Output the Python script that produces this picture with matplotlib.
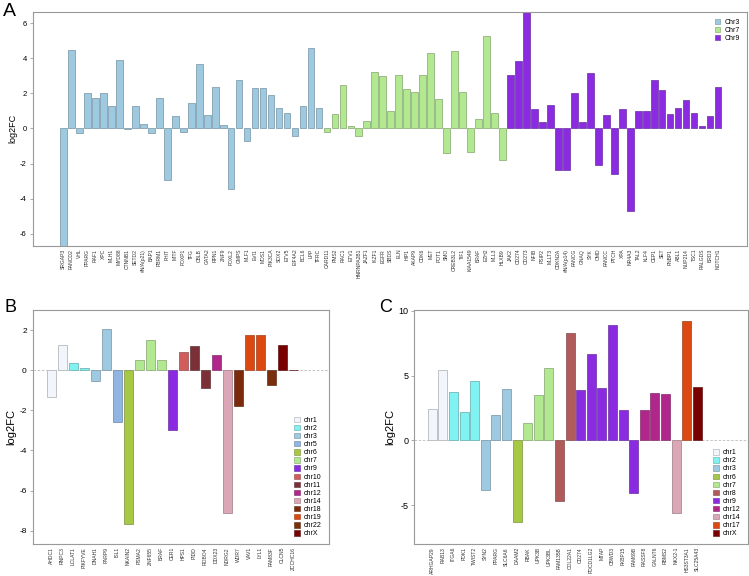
import numpy as np
import matplotlib
matplotlib.use('Agg')
import matplotlib.pyplot as plt
from matplotlib.patches import Patch
from matplotlib.colors import to_rgb

plt.rcParams['font.family'] = ['Liberation Sans', 'DejaVu Sans']

# ---- panel A data ----
genesA = ['SRGAP3', 'FANCD2', 'VHL', 'PPARG', 'RAF1', 'XPC', 'MLH1', 'MYD88', 'CTNNB1', 'SETD2',
          '#N/A(p21)', 'BAP1', 'PBRM1', 'FHIT', 'MITF', 'FOXP1', 'TFG', 'CBLB', 'GATA2', 'RPN1',
          'ZNF9', 'FOXL2', 'GMPS', 'MLF1', 'EVI1', 'MDS1', 'PIK3CA', 'SOX2', 'ETV5', 'EIF4A2',
          'BCL6', 'LPP', 'TFRC',
          'CARD11', 'PMS2', 'RAC1', 'ETV1', 'HNRNPA2B1', 'JAZF1', 'IKZF1', 'EGFR', 'SBDS', 'ELN',
          'HIP1', 'AKAP9', 'CDK6', 'MET', 'POT1', 'SMO', 'CREB3L2', 'TIF1', 'KIAA1549', 'BRAF',
          'EZH2', 'MLL3', 'HLXB9',
          'JAK2', 'CD274', 'CD273', 'NFIB', 'PSIP2', 'MLLT3', 'CDKN2A', '#N/A(p14)', 'FANCG',
          'GNAQ', 'SYK', 'OMD', 'FANCC', 'PTCH', 'XPA', 'NR4A3', 'TAL2', 'KLF4', 'CEP1', 'SET',
          'FNBP1', 'ABL1', 'NUP214', 'TSC1', 'RALGDS', 'BRD3', 'NOTCH1']
valsA = [-6.9, 4.49, -0.28, 1.99, 1.76, 1.99, 1.25, 3.92, -0.06, 1.25,
         0.23, -0.28, 1.76, -2.95, 0.68, -0.23, 1.42, 3.69, 0.74, 2.37,
         0.19, -3.47, 2.75, -0.74, 2.33, 2.33, 1.93, 1.19, 0.89, -0.45,
         1.25, 4.56, 1.14,
         -0.23, 0.80, 2.50, 0.15, -0.45, 0.44, 3.24, 3.01, 0.97, 3.07,
         2.22, 2.05, 3.07, 4.32, 1.70, -1.38, 4.43, 2.10, -1.33, 0.51,
         5.28, 0.85, -1.82,
         3.03, 3.86, 6.9, 1.08, 0.38, 1.34, -2.39, -2.39, 1.99,
         0.34, 3.13, -2.06, 0.78, -2.58, 1.08, -4.70, 1.00, 0.98, 2.78, 2.18,
         0.81, 1.19, 1.63, 0.87, 0.13, 0.68, 2.37]
chromA = ['Chr3'] * 33 + ['Chr7'] * 23 + ['Chr9'] * 27
colorsA = {'Chr3': '#9ecae1', 'Chr7': '#b2e890', 'Chr9': '#8a2be2'}

# ---- panel B data ----
genesB = ['AHDC1', 'RNPC3', 'LCLAT1', 'PIKFYVE', 'DNAH1', 'PARP9', 'ISL1', 'NKAIN2', 'PSMA2',
          'ZNF655', 'BRAF', 'CER1', 'HPS1', 'PIDD', 'ROBO4', 'DDX23', 'NDRG2', 'WDR7', 'VAV1',
          'LYL1', 'FAM83F', 'CLCN5', 'ZCCHC16']
valsB = [-1.35, 1.28, 0.37, 0.12, -0.53, 2.03, -2.6, -7.68, 0.52,
         1.48, 0.52, -3.0, 0.93, 1.23, -0.88, 0.78, -7.13, -1.78, 1.77,
         1.75, -0.73, 1.28, 0.02]
chromB = ['chr1', 'chr1', 'chr2', 'chr2', 'chr3', 'chr3', 'chr5', 'chr6', 'chr7',
          'chr7', 'chr7', 'chr9', 'chr10', 'chr11', 'chr11', 'chr12', 'chr14', 'chr18', 'chr19',
          'chr19', 'chr22', 'chrX', 'chrX']

# ---- panel C data ----
genesC = ['ARHGAP29', 'RAB13', 'ITGA6', 'PDK1', 'TWIST2', 'SYN2', 'PPARG', 'SLC6A6', 'DAAM2',
          'RBAK', 'UPK3B', 'UPK3BL', 'FAM135B', 'COL22A1', 'CD274', 'PDCD1LG2', 'MTAP', 'CBWD3',
          'FKBP15', 'FAM69B', 'RASSF8', 'GALNT6', 'RBMS2', 'NKX2-1', 'HS3ST3A1', 'SLC25A43']
valsC = [2.41, 5.44, 3.77, 2.21, 4.56, -3.79, 1.97, 3.97, -6.31,
         1.36, 3.51, 5.59, -4.69, 8.28, 3.87, 6.67, 4.08, 8.9,
         2.36, -4.03, 2.31, 3.64, 3.59, -5.56, 9.18, 4.13]
chromC = ['chr1', 'chr1', 'chr2', 'chr2', 'chr2', 'chr3', 'chr3', 'chr3', 'chr6',
          'chr7', 'chr7', 'chr7', 'chr8', 'chr8', 'chr9', 'chr9', 'chr9', 'chr9',
          'chr9', 'chr9', 'chr12', 'chr12', 'chr12', 'chr14', 'chr17', 'chrX']

chrColors = {'chr1': '#f2f6fc', 'chr2': '#80f2f2', 'chr3': '#9ecae1', 'chr5': '#8fb5e3',
             'chr6': '#a6c844', 'chr7': '#b2e890', 'chr8': '#b05a5a', 'chr9': '#8a2be2',
             'chr10': '#d05c5c', 'chr11': '#7b3037', 'chr12': '#b0268a', 'chr14': '#dba6b6',
             'chr17': '#dd4812', 'chr18': '#7b2a0c', 'chr19': '#dd4812', 'chr22': '#7a2e0a',
             'chrX': '#780000'}


def edge(c):
    r, g, b = to_rgb(c)
    return (r * 0.6 + 0.15, g * 0.6 + 0.15, b * 0.6 + 0.15)


def drawPanel(ax, genes, vals, chroms, cmap, xlim, ylim, yticks, tickfs, labfs, legloc,
              zeroline=True):
    x = np.arange(len(genes))
    cols = [cmap[c] for c in chroms]
    if zeroline:
        ax.axhline(0, color='#bbbbbb', lw=0.6, ls=(0, (3, 2)), zorder=0)
    ax.bar(x, vals, width=0.84, color=cols, edgecolor=[edge(c) for c in cols],
           linewidth=0.6, zorder=2)
    ax.set_xlim(*xlim)
    ax.set_ylim(*ylim)
    ax.set_xticks(x)
    ax.set_xticklabels(genes, rotation=90, fontsize=3.6, color='#333333')
    ax.tick_params(axis='x', length=0, pad=2)
    ax.set_yticks(yticks)
    ax.set_yticklabels([str(t) for t in yticks], fontsize=tickfs)
    ax.tick_params(axis='y', length=2.5, width=0.5, color='#888888', pad=2)
    ax.set_ylabel('log2FC', fontsize=labfs, labelpad=2)
    for s in ax.spines.values():
        s.set_color('#999999')
        s.set_linewidth(0.8)
    seen = []
    for c in chroms:
        if c not in seen:
            seen.append(c)
    handles = [Patch(facecolor=cmap[c], edgecolor=edge(cmap[c]), linewidth=0.5, label=c)
               for c in seen]
    ax.legend(handles=handles, loc=legloc, frameon=False, fontsize=5, handlelength=0.8,
              handleheight=0.8, handletextpad=0.6, labelspacing=0.15, borderaxespad=0.6)


fig = plt.figure(figsize=(7.49, 5.76), dpi=100)
axA = fig.add_axes([0.0441, 0.5729, 0.9532, 0.4068])
axB = fig.add_axes([0.0441, 0.0550, 0.3952, 0.4068])
axC = fig.add_axes([0.5534, 0.0550, 0.4446, 0.4068])

drawPanel(axA, genesA, valsA, chromA, colorsA, (-3.82, 85.63), (-6.7, 6.65),
          [-6, -4, -2, 0, 2, 4, 6], 5.5, 6.5, 'upper right', zeroline=False)
drawPanel(axB, genesB, valsB, chromB, chrColors, (-1.65, 25.23), (-8.68, 3.0),
          [-8, -6, -4, -2, 0, 2], 6, 8, 'lower right')
drawPanel(axC, genesC, valsC, chromC, chrColors, (-1.68, 29.74), (-8.0, 10.05),
          [-5, 0, 5, 10], 6.5, 8, 'lower right')

fig.text(9 / 749, 1 - 11 / 576, 'A', fontsize=14, ha='center', va='center')
fig.text(10 / 749, 1 - 307 / 576, 'B', fontsize=13, ha='center', va='center')
fig.text(386 / 749, 1 - 307 / 576, 'C', fontsize=13, ha='center', va='center')

fig.savefig('out.png', dpi=100)
